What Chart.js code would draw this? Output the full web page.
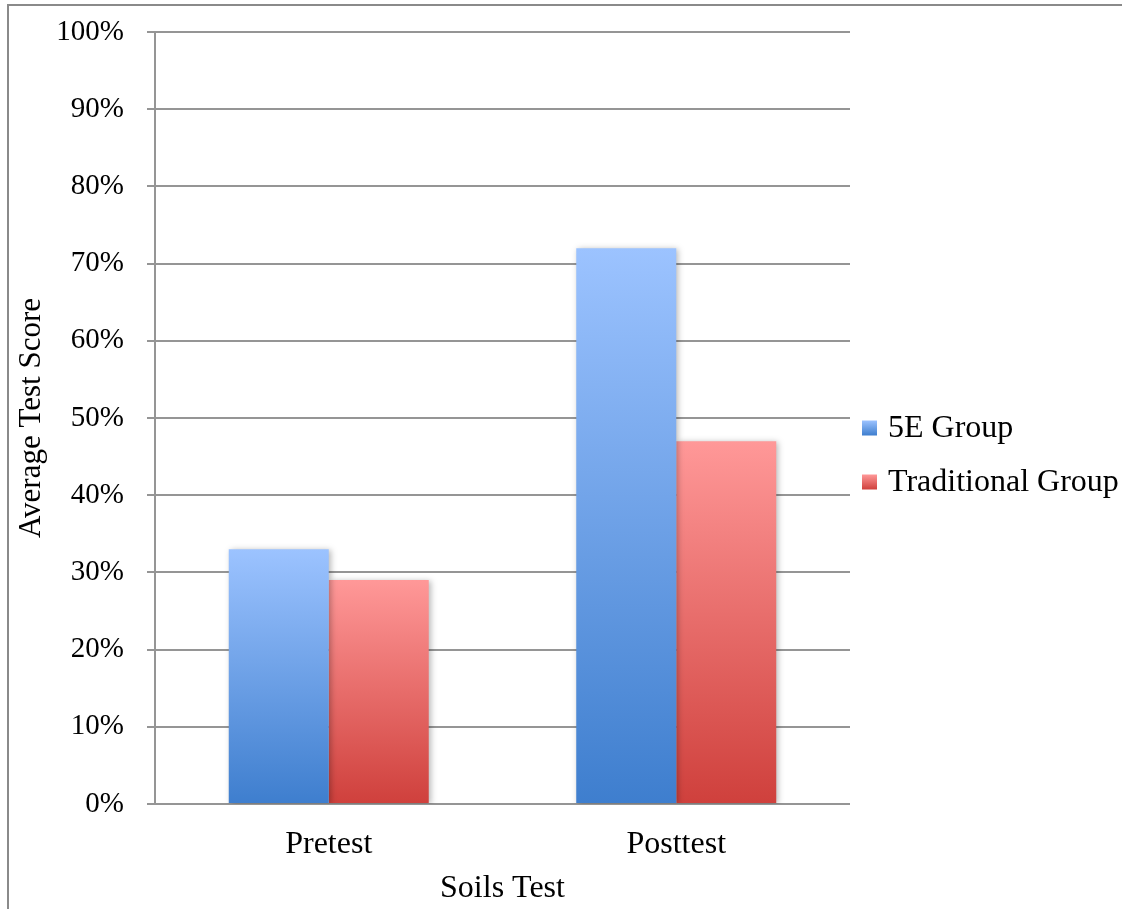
<!DOCTYPE html>
<html>
<head>
<meta charset="utf-8">
<script src="https://cdn.jsdelivr.net/npm/chart.js@4.4.1/dist/chart.umd.min.js"></script>
<style>
  html, body { margin: 0; padding: 0; background: #ffffff; }
  #wrap { position: absolute; left: 0; top: 0; width: 1122px; height: 909px; }
</style>
</head>
<body>
<div id="wrap"><canvas id="c" width="1122" height="909"></canvas></div>
<script>
const categories = ["Pretest", "Posttest"];
const fiveEGroup = [0.33, 0.72];
const traditionalGroup = [0.29, 0.47];
const seriesNames = ["5E Group", "Traditional Group"];
const yTickMax = 1.0;
const yTickStep = 0.1;
const xTitle = "Soils Test";
const yTitle = "Average Test Score";

const gradStops = [
  { top: "#9cc3ff", bottom: "#3e7ece" },
  { top: "#ff9898", bottom: "#cf403c" }
];

function barGradient(ctx) {
  const chart = ctx.chart;
  const ys = chart.scales && chart.scales.y;
  const stops = gradStops[ctx.datasetIndex];
  if (!ys || ctx.raw == null || ys.bottom === undefined) return stops.top;
  const yTop = ys.getPixelForValue(ctx.raw);
  const yBase = ys.getPixelForValue(0);
  if (!isFinite(yTop) || !isFinite(yBase) || yTop === yBase) return stops.top;
  const g = chart.ctx.createLinearGradient(0, yTop, 0, yBase);
  g.addColorStop(0, stops.top);
  g.addColorStop(1, stops.bottom);
  return g;
}

const framePlugin = {
  id: "frame",
  beforeDraw(chart) {
    const c = chart.ctx;
    c.save();
    c.strokeStyle = "#8a8a8a";
    c.lineWidth = 2;
    c.beginPath();
    c.moveTo(8, chart.height);
    c.lineTo(8, 5);
    c.lineTo(chart.width, 5);
    c.stroke();
    c.restore();
  }
};

const shadowPlugin = {
  id: "barShadow",
  beforeDatasetDraw(chart) {
    const c = chart.ctx;
    c.save();
    c.shadowColor = "rgba(0,0,0,0.28)";
    c.shadowBlur = 6;
    c.shadowOffsetX = 2;
    c.shadowOffsetY = 1;
  },
  afterDatasetDraw(chart) {
    chart.ctx.restore();
  }
};

const legendPlugin = {
  id: "customLegend",
  afterDraw(chart) {
    const c = chart.ctx;
    const x0 = chart.chartArea.right + 12;
    const rowH = 54;
    const cy0 = 428;
    c.save();
    c.font = "32px 'Liberation Serif', 'Times New Roman', serif";
    c.textBaseline = "middle";
    c.textAlign = "left";
    chart.data.datasets.forEach((ds, i) => {
      const cy = cy0 + i * rowH;
      const box = 15;
      const g = c.createLinearGradient(0, cy - box / 2, 0, cy + box / 2);
      g.addColorStop(0, gradStops[i].top);
      g.addColorStop(1, gradStops[i].bottom);
      c.fillStyle = g;
      c.fillRect(x0, cy - box / 2, box, box);
      c.fillStyle = "#000000";
      c.fillText(ds.label, x0 + box + 11, cy + 1);
    });
    c.restore();
  }
};

new Chart(document.getElementById("c"), {
  type: "bar",
  data: {
    labels: categories,
    datasets: [
      { label: seriesNames[0], data: fiveEGroup, backgroundColor: barGradient },
      { label: seriesNames[1], data: traditionalGroup, backgroundColor: barGradient }
    ]
  },
  options: {
    responsive: false,
    animation: false,
    devicePixelRatio: 1,
    layout: { padding: { left: 0, right: 272, top: 32, bottom: 0 } },
    datasets: {
      bar: { categoryPercentage: 0.5755, barPercentage: 1.0, borderWidth: 0 }
    },
    plugins: {
      legend: { display: false },
      tooltip: { enabled: false }
    },
    scales: {
      x: {
        grid: { display: false, drawTicks: false },
        border: { display: false },
        ticks: {
          color: "#000000",
          padding: 21,
          font: { family: "'Liberation Serif', 'Times New Roman', serif", size: 32 }
        },
        title: {
          display: true,
          text: xTitle,
          color: "#000000",
          padding: { top: 0, bottom: 1 },
          font: { family: "'Liberation Serif', 'Times New Roman', serif", size: 32 }
        },
        afterFit(scale) { scale.height = 105; }
      },
      y: {
        min: 0,
        max: yTickMax,
        grid: { color: "#959595", lineWidth: 2, tickLength: 8 },
        border: { display: true, color: "#959595", width: 2 },
        ticks: {
          stepSize: yTickStep,
          color: "#000000",
          padding: 23,
          font: { family: "'Liberation Serif', 'Times New Roman', serif", size: 29 },
          callback: (v) => Math.round(v * 100) + "%"
        },
        title: {
          display: true,
          text: yTitle,
          color: "#000000",
          padding: { top: 13, bottom: 0 },
          font: { family: "'Liberation Serif', 'Times New Roman', serif", size: 31 }
        },
        afterFit(scale) {
          scale.width = 155;
          scale.paddingTop = 0;
          scale.paddingBottom = 0;
        }
      }
    }
  },
  plugins: [framePlugin, shadowPlugin, legendPlugin]
});
</script>
</body>
</html>
